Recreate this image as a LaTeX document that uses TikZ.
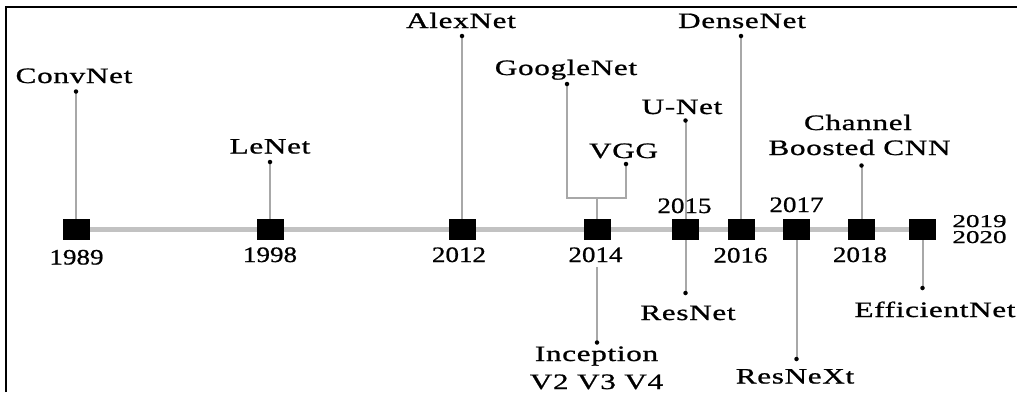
\documentclass[tikz,border=0pt]{standalone}
\usepackage{fontspec}
\usetikzlibrary{backgrounds}
\newfontfamily\wordfont{Liberation Serif}[FakeStretch=1.42,LetterSpace=3,FakeBold=0.9]
\newfontfamily\yearfont{Liberation Serif}[FakeStretch=1.23,FakeBold=0.9]
\tikzset{
  bar/.style={line width=5pt, draw=black!24},
  stem/.style={line width=2pt, draw=black!34},
  yearbox/.style={fill=black, inner sep=0pt, minimum width=27pt, minimum height=21pt},
  dot/.style={circle, fill=black, inner sep=0pt, minimum size=4.5pt},
  lbl/.style={inner sep=0pt, font=\wordfont\fontsize{22}{25}\selectfont},
  yr/.style={inner sep=0pt, font=\yearfont\fontsize{22}{25}\selectfont},
}
\begin{document}
\begin{tikzpicture}[x=1pt,y=-1pt]
\useasboundingbox (0,0) rectangle (1017,392);
\draw[line width=2.5pt] (6,392) -- (6,7) -- (1017,7);

% year squares
\node[yearbox] (s1989) at (76,229.5) {};
\node[yearbox] (s1998) at (270,229.5) {};
\node[yearbox] (s2012) at (462,229.5) {};
\node[yearbox] (s2014) at (597,229.5) {};
\node[yearbox] (s2015) at (685.5,229.5) {};
\node[yearbox] (s2016) at (741,229.5) {};
\node[yearbox] (s2017) at (796.5,229.5) {};
\node[yearbox] (s2018) at (861.5,229.5) {};
\node[yearbox] (s2019) at (922.5,229.5) {};

% year labels
\node[yr, anchor=base] (y1989) at (76.5,264.5) {1989};
\node[yr, anchor=base] (y1998) at (270,262) {1998};
\node[yr, anchor=base] (y2012) at (459,262) {2012};
\node[yr, anchor=base] (y2014) at (595.5,262) {2014};
\node[yr, anchor=base] (y2015) at (684.5,213) {2015};
\node[yr, anchor=base] (y2016) at (740.5,262.5) {2016};
\node[yr, anchor=base] (y2017) at (796.5,212) {2017};
\node[yr, anchor=base] (y2018) at (860,262) {2018};
\node[yr, anchor=base] (y2019) at (979.5,227) {\scalebox{1}[0.82]{2019}};
\node[yr, anchor=base] (y2020) at (979.5,243) {\scalebox{1}[0.82]{2020}};

% dots
\node[dot] (dConv) at (76,91.5) {};
\node[dot] (dLe) at (270,162) {};
\node[dot] (dAlex) at (462,36) {};
\node[dot] (dGoogle) at (567,84) {};
\node[dot] (dVGG) at (626,164) {};
\node[dot] (dU) at (685.5,120.5) {};
\node[dot] (dDense) at (741,36) {};
\node[dot] (dCB) at (861.5,165.5) {};
\node[dot] (dIncep) at (597,342.5) {};
\node[dot] (dRes) at (685.5,293) {};
\node[dot] (dNeXt) at (796.5,359) {};
\node[dot] (dEff) at (922.5,288) {};
\coordinate (br) at (597,198);

% labels
\node[lbl, anchor=base] (tConv) at (74,83) {ConvNet};
\node[lbl, anchor=base] (tLe) at (270,153.5) {LeNet};
\node[lbl, anchor=base] (tAlex) at (461,28) {AlexNet};
\node[lbl, anchor=base] (tGoogle) at (566,75) {GoogleNet};
\node[lbl, anchor=base] (tVGG) at (623.5,158) {VGG};
\node[lbl, anchor=base] (tU) at (682,114) {U-Net};
\node[lbl, anchor=base] (tDense) at (742,28) {DenseNet};
\node[lbl, anchor=base] (tCB1) at (858,130) {Channel};
\node[lbl, anchor=base] (tCB2) at (859.5,155) {Boosted CNN};
\node[lbl, anchor=base] (tIncep1) at (596.5,361) {Inception};
\node[lbl, anchor=base] (tIncep2) at (596.5,389) {V2 V3 V4};
\node[lbl, anchor=base] (tRes) at (688,320) {ResNet};
\node[lbl, anchor=base] (tNeXt) at (795,383.5) {ResNeXt};
\node[lbl, anchor=base] (tEff) at (935,317) {EfficientNet};

\begin{pgfonlayer}{background}
\draw[bar] (s1989.center) -- (s2019.center);
\draw[stem] (s1989.center) -- (dConv.center);
\draw[stem] (s1998.center) -- (dLe.center);
\draw[stem] (s2012.center) -- (dAlex.center);
\draw[stem] (s2014.center) -- (br);
\draw[stem] (dGoogle.center) |- (br) -| (dVGG.center);
\draw[stem] (s2015.center) -- (dU.center);
\draw[stem] (s2016.center) -- (dDense.center);
\draw[stem] (s2018.center) -- (dCB.center);
\draw[stem] ([yshift=-5pt]y2014.south -| s2014) -- (dIncep.center);
\draw[stem] (s2015.center) -- (dRes.center);
\draw[stem] (s2017.center) -- (dNeXt.center);
\draw[stem] (s2019.center) -- (dEff.center);
\end{pgfonlayer}
\end{tikzpicture}
\end{document}
